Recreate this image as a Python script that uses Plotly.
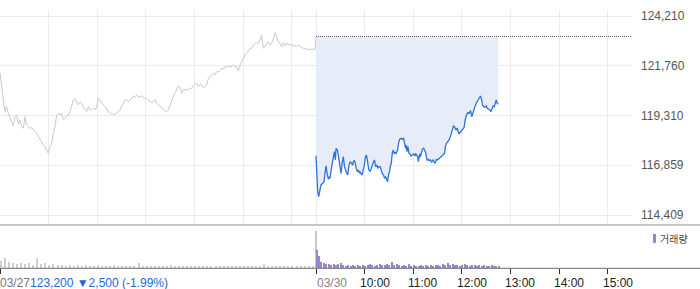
import plotly.graph_objects as go

# ---------------- data ----------------
prev_close = 123200
prev_label = "123,200 ▼2,500 (-1.99%)"

# 03/27 intraday price (sampled ~every 2 minutes), last value = closing auction
day1_prices = [
    121420, 120650, 120070, 119500, 119745, 119415, 119250, 119005, 118795, 119250,
    119335, 118890, 119090, 118760, 118680, 119250, 118840, 118760, 118680, 118710,
    118595, 118515, 118430, 118270, 118105, 118020, 117855, 117775, 117610, 117445,
    117775, 117940, 118430, 118760, 119335, 119415, 119335, 119415, 119090, 119170,
    119250, 119335, 119500, 119745, 120070, 120155, 119990, 119825, 119990, 119910,
    119745, 119580, 119500, 119745, 119580, 119580, 119660, 119580, 119745, 120155,
    120070, 119910, 119825, 119745, 119660, 119500, 119415, 119385, 119365, 119385,
    119415, 119500, 119580, 119745, 119910, 120070, 120070, 119990, 120070, 120155,
    120240, 120240, 120320, 120205, 120240, 120270, 120205, 120155, 120155, 120070,
    119990, 119940, 119990, 120105, 119910, 119825, 119745, 119660, 119615, 119550,
    119500, 119580, 119825, 119990, 120240, 120400, 120565, 120765, 120695, 120400,
    120600, 120565, 120600, 120565, 120630, 120650, 120765, 120810, 120895, 120730,
    120860, 120810, 120695, 120730, 120810, 121140, 121220, 121255, 121385, 121305,
    121470, 121470, 121520, 121635, 121585, 121715, 121715, 121715, 121750, 121715,
    121795, 121715, 121715, 121500, 121795, 121960, 122205, 122290, 122405, 122455,
    122620, 122620, 122780, 122865, 122895, 122865, 123030, 123275, 122620, 122735,
    122865, 122945, 122780, 122865, 123110, 123390, 123190, 122945, 122865, 122700,
    122895, 122735, 122865, 122815, 122780, 122830, 122700, 122780, 122700, 122780,
    122700, 122665, 122620, 122620, 122570, 122585, 122570, 122570, 122570, 122570,
    123200,
]
day1_step_min = 2.057

# 03/30 intraday: minutes after 09:00 and price
day2_minutes = [
    0, 0.8, 2.1, 3.3, 5.0, 6.2, 8.3, 9.9, 11.1, 12.4, 14.0, 15.3, 16.5, 17.3, 18.6, 19.8,
    21.5, 22.7, 23.9, 24.8, 26.4, 27.7, 28.9, 29.7, 31.0, 32.2, 33.8, 35.1, 36.3, 38.0,
    39.2, 40.4, 42.1, 44.2, 45.4, 46.2, 47.5, 48.7, 49.5, 51.2, 52.4, 53.7, 54.5, 55.7,
    57.0, 58.2, 59.4, 60.7, 61.9, 62.7, 64.0, 65.2, 66.9, 68.1, 69.3, 71.0, 72.2, 73.5,
    75.1, 76.3, 77.6, 79.2, 80.5, 81.7, 83.4, 84.6, 85.8, 87.1, 88.3, 89.5, 90.8, 91.6,
    92.9, 94.1, 95.3, 96.6, 97.8, 99.0, 100.7, 101.9, 103.2, 104.8, 106.5, 108.1, 109.4,
    110.6, 111.4, 112.3, 113.5, 114.7, 116.0, 117.2, 118.9, 120.5, 122.2, 123.0, 123.8,
    125.5, 126.3, 127.1, 127.9, 128.8, 130.0, 131.2, 132.9, 134.1, 135.4, 136.2, 137.0,
    138.3, 139.5, 141.1, 142.8, 144.4, 146.1, 146.9, 147.7, 148.6, 150.2, 151.9, 153.5,
    155.2, 156.8, 158.5, 159.7, 161.0, 162.6, 164.3, 165.9, 167.1, 168.4, 169.6, 170.9,
    172.5, 174.2, 175.4, 176.6, 178.3, 179.9, 181.2, 182.8, 184.1, 185.7, 187.4, 189.0,
    190.7, 192.3, 193.6, 194.8, 196.4, 198.1, 199.7, 201.4, 203.0, 204.3, 205.5, 207.2,
    208.4, 210.1, 211.3, 213.0, 214.6, 215.8, 217.1, 218.7, 220.0, 221.2, 222.4, 223.7,
    224.9,
]
day2_prices = [
    117330, 116300, 115560, 115310, 115640, 115890, 115970, 116050, 116460, 116825,
    116380, 116165, 116300, 116215, 116625, 116955, 117280, 117530, 117120, 117695,
    117610, 117280, 117035, 116710, 116460, 116955, 117280, 116790, 116625, 116460,
    116380, 116790, 117035, 116955, 116870, 117035, 117085, 116920, 116710, 116545,
    116625, 116460, 116545, 116430, 116380, 116625, 116790, 117200, 117365, 117280,
    116955, 116625, 116545, 116710, 116790, 117035, 117120, 116790, 116870, 116710,
    116790, 116790, 116625, 116460, 116380, 116215, 116300, 116135, 116050, 116380,
    116545, 116790, 116955, 117445, 117610, 117445, 117480, 117445, 117610, 117940,
    118135, 118185, 118135, 118185, 117940, 117695, 117855, 117530, 117775, 117445,
    117415, 117315, 117365, 117415, 117315, 117445, 117365, 117280, 117035, 117365,
    117415, 117280, 117445, 117645, 117695, 117610, 117480, 117280, 117120, 117150,
    117085, 117120, 117020, 117120, 117035, 116955, 117055, 117150, 117120, 117185,
    117280, 117315, 117365, 117445, 117775, 117940, 118020, 118105, 118270, 118430,
    118630, 118795, 118760, 118595, 118680, 118495, 118400, 118495, 118595, 118680,
    118725, 119090, 119335, 119450, 119415, 119550, 119250, 119415, 119615, 119780,
    119940, 120075, 120205, 120270, 120105, 119825, 119745, 119710, 119780, 119665,
    119615, 119580, 119500, 119665, 119780, 119745, 119910, 120075, 119910, 119860,
]

# volume (arbitrary units)
day1_volume = [
    21, 30, 18, 15, 12, 15, 12, 15, 9, 30, 12, 15, 9, 12, 9, 9, 6, 9, 6, 9,
    6, 9, 6, 6, 9, 6, 6, 6, 9, 6, 6, 6, 6, 6, 15, 6, 6, 6, 6, 6,
    6, 6, 9, 6, 6, 6, 6, 6, 6, 6, 6, 6, 6, 6, 6, 6, 6, 6, 6, 6,
    6, 6, 6, 6, 6, 12, 6, 6, 6, 6, 6, 6, 6, 6, 6, 6, 6, 6,
]
day1_close_volume = 111
day2_volume = [
    54, 36, 18, 15, 12, 12, 9, 12, 9, 12, 15, 9, 6, 9, 6, 9, 6, 9, 6, 9,
    6, 9, 12, 9, 6, 9, 12, 9, 9, 12, 9, 18, 9, 12, 9, 6, 9, 6, 12, 6,
    9, 6, 6, 9, 6, 9, 6, 9, 6, 9, 9, 6, 12, 9, 15, 9, 12, 9, 9, 6,
    9, 12, 9, 6, 9, 9, 6, 9, 6, 9, 6, 6, 9, 6, 6, 6,
]

y_tick_values = [114409, 116859, 119310, 121760, 124210]
y_tick_text = ["114,409", "116,859", "119,310", "121,760", "124,210"]
day_labels = ["03/27", "03/30"]
hour_ticks = [450, 510, 570, 630, 690, 750]
hour_labels = ["10:00", "11:00", "12:00", "13:00", "14:00", "15:00"]
session_len = 390  # minutes 09:00-15:30

# ---------------- figure ----------------
W, H = 700, 289
FONT = "Liberation Sans, Arial, sans-serif"
GRID = "#ebebeb"

def py(px):
    return (H - px) / H

x_end = 2 * session_len
dom_x = [0, 632 / W]

day1_x = [i * day1_step_min for i in range(len(day1_prices) - 1)] + [session_len]
day2_x = [session_len + m for m in day2_minutes]

fig = go.Figure()

fig.add_trace(go.Scatter(
    x=day1_x, y=day1_prices, mode="lines",
    line=dict(color="#c9c9ce", width=1), hoverinfo="skip", showlegend=False,
    xaxis="x", yaxis="y"))

# fill base at previous close
fig.add_trace(go.Scatter(
    x=[day2_x[0], day2_x[-1]], y=[prev_close, prev_close], mode="lines",
    line=dict(width=0, color="rgba(0,0,0,0)"), hoverinfo="skip", showlegend=False,
    xaxis="x", yaxis="y"))
fig.add_trace(go.Scatter(
    x=day2_x, y=day2_prices, mode="lines", fill="tonexty",
    fillcolor="#e6edf9",
    line=dict(color="#2f72dc", width=1.3), hoverinfo="skip", showlegend=False,
    xaxis="x", yaxis="y"))
# dotted previous-close line
fig.add_trace(go.Scatter(
    x=[session_len, x_end], y=[prev_close, prev_close], mode="lines",
    line=dict(color="#555555", width=1, dash="1px,1px"), hoverinfo="skip", showlegend=False,
    xaxis="x", yaxis="y"))

# volumes
fig.add_trace(go.Bar(
    x=[i * 5 + 1 for i in range(len(day1_volume))], y=day1_volume,
    marker=dict(color="#cfcfcf", line=dict(width=0)), width=1.3,
    hoverinfo="skip", showlegend=False, xaxis="x2", yaxis="y2"))
fig.add_trace(go.Bar(
    x=[session_len - 0.5], y=[day1_close_volume],
    marker=dict(color="#c8c8c8", line=dict(width=0)), width=1.2,
    hoverinfo="skip", showlegend=False, xaxis="x2", yaxis="y2"))
fig.add_trace(go.Bar(
    x=[session_len + 0.7 + i * 3 for i in range(len(day2_volume))], y=day2_volume,
    marker=dict(color="#9a86cc", line=dict(width=0)), width=1.4,
    hoverinfo="skip", showlegend=False, xaxis="x2", yaxis="y2"))

grid_ticks = [i * 60 for i in range(7)] + [session_len] + hour_ticks

main_bottom, main_top = 225, 10
vol_bottom, vol_top = 268.3, 226
ppx = (124210 - 114409) / 199.0
y_lo = 114409 - (main_bottom - 215) * ppx
y_hi = 124210 + (16 - main_top) * ppx
vol_hi = (vol_bottom - vol_top) * 3

fig.update_layout(
    width=W, height=H, margin=dict(l=0, r=0, t=0, b=0),
    paper_bgcolor="white", plot_bgcolor="white",
    font=dict(family=FONT, size=12, color="#555"),
    bargap=0, barmode="overlay",
    xaxis=dict(domain=dom_x, range=[0, x_end], anchor="y",
               tickvals=grid_ticks, showticklabels=False, ticks="",
               showgrid=True, gridcolor=GRID, gridwidth=1, zeroline=False, showline=False),
    yaxis=dict(domain=[py(main_bottom), py(main_top)], range=[y_lo, y_hi], anchor="x",
               side="right", tickvals=y_tick_values, ticktext=y_tick_text,
               ticks="", ticklabelstandoff=8,
               tickfont=dict(family=FONT, size=12, color="#555"),
               showgrid=True, gridcolor=GRID, gridwidth=1, zeroline=False, showline=False),
    xaxis2=dict(domain=dom_x, range=[0, x_end], anchor="y2",
                tickvals=[0, session_len] + hour_ticks, showticklabels=False,
                ticks="outside", ticklen=5, tickcolor="#333", tickwidth=1,
                showgrid=False, zeroline=False, showline=False),
    yaxis2=dict(domain=[py(vol_bottom), py(vol_top)], range=[0, vol_hi], anchor="x2",
                showticklabels=False, ticks="", showgrid=False, zeroline=False, showline=False),
)

# panel border lines
fig.add_shape(type="line", xref="paper", yref="paper", x0=0, x1=1,
              y0=py(main_bottom), y1=py(main_bottom), line=dict(color="#8f8f8f", width=1))
fig.add_shape(type="line", xref="paper", yref="paper", x0=0, x1=1,
              y0=py(vol_bottom), y1=py(vol_bottom), line=dict(color="#6a6a6a", width=1))

# legend for volume
fig.add_shape(type="rect", xref="paper", yref="paper",
              x0=653 / W, x1=656 / W, y0=py(243), y1=py(234),
              fillcolor="#9a86cc", line=dict(width=0))
fig.add_annotation(text="거래량", xref="paper", yref="paper", x=658 / W, y=py(238.5),
                   xanchor="left", yanchor="middle", showarrow=False,
                   font=dict(family="Noto Sans CJK KR", size=10, color="#444"))

# bottom labels
label_y = py(283)
fig.add_annotation(
    text=day_labels[0] + "<span style='color:#1f66d8'>" + prev_label + "</span>",
    xref="x2", yref="paper", x=0, y=label_y, xanchor="left", yanchor="middle",
    showarrow=False, borderpad=0, xshift=-1,
    font=dict(family=FONT, size=12, color="#777"))
fig.add_annotation(
    text=day_labels[1], xref="x2", yref="paper", x=session_len, y=label_y,
    xanchor="left", yanchor="middle", showarrow=False, borderpad=0,
    font=dict(family=FONT, size=12, color="#888"))
for t, lab in zip(hour_ticks, hour_labels):
    fig.add_annotation(
        text=lab, xref="x2", yref="paper", x=t, y=label_y,
        xanchor="left", yanchor="middle", showarrow=False, borderpad=0, xshift=-6,
        font=dict(family=FONT, size=12, color="#222"))

fig.write_html("out.html")
